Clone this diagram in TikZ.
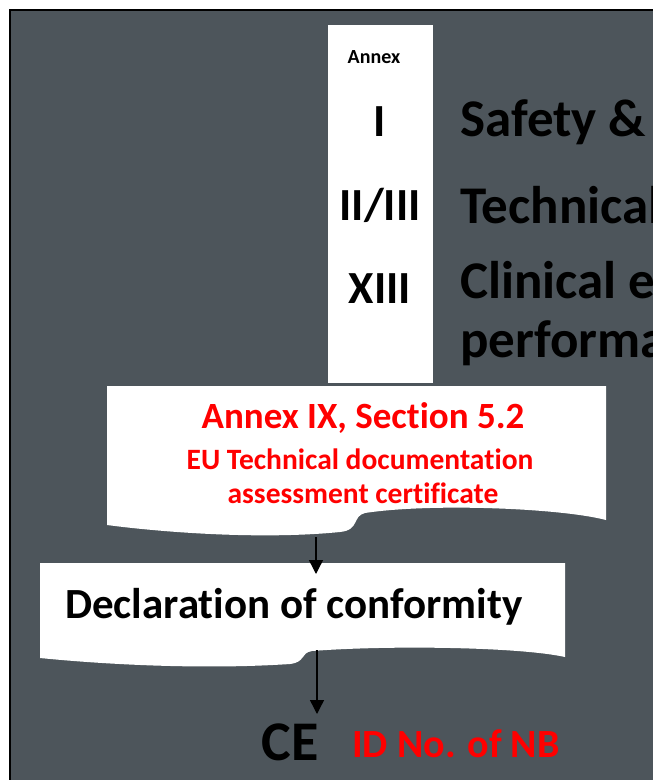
\documentclass[tikz,border=0pt]{standalone}
\usepackage{fontspec}
\setmainfont[Ligatures={NoCommon,NoContextual}]{Carlito}
\usetikzlibrary{arrows.meta}
\definecolor{panel}{HTML}{4D555B}
\definecolor{redtxt}{HTML}{FF0000}
\tikzset{
  sheet/.style={fill=white, draw=none},
  numeral/.style={font=\bfseries\fontsize{46}{50}\selectfont, text=black, inner sep=0pt},
  topic/.style={font=\bfseries\fontsize{53}{58}\selectfont, text=black, anchor=west, inner sep=0pt},
  flow/.style={draw=black, line width=1.4pt, -{Triangle[length=14pt, width=14pt]}},
}
\begin{document}
\begin{tikzpicture}[x=1pt, y=-1pt]
\useasboundingbox (0,0) rectangle (653,780);
\clip (0,0) rectangle (653,780);
% background panel
\fill[white] (0,0) rectangle (653,780);
\draw[fill=panel, draw=black, line width=2pt] (10,10) rectangle (670,800);

% annex column
\fill[white] (328,25) rectangle (433,383);
\node[font=\bfseries\fontsize{20}{22}\selectfont, inner sep=0pt] (annex) at (374,57) {Annex};
\node[numeral] (n1) at (380,122) {I};
\node[numeral] (n2) at (380,205) {II/III};
\node[numeral] (n3) at (380,289) {XIII};

% topics beside the numerals (running past the right edge)
\node[topic] (t1) at (460,122) {Safety \& performance requirements};
\node[topic] (t2) at (460,205) {Technical documentation};
\node[topic] (t3) at (460,280) {Clinical evaluation \&};
\node[topic] (t4) at (460,343) {performance evaluation};

% certificate document shape
\path[sheet] (107,386) -- (606,386) -- (606,520)
  .. controls (560,508) and (430,503) .. (365,513)
  .. controls (352,516) and (360,530) .. (340,532)
  .. controls (260,540) and (160,532) .. (107,525) -- cycle;
\node[font=\bfseries\fontsize{37}{40}\selectfont, text=redtxt, inner sep=0pt] (cert1) at (363,418) {Annex IX, Section 5.2};
\node[font=\bfseries\fontsize{29.5}{32}\selectfont, text=redtxt, inner sep=0pt] (cert2) at (360,459) {EU Technical documentation};
\node[font=\bfseries\fontsize{29.5}{32}\selectfont, text=redtxt, inner sep=0pt] (cert3) at (363,493) {assessment certificate};

% declaration document shape
\path[sheet] (40,563) -- (565,563) -- (565,657)
  .. controls (520,647) and (390,645) .. (312,651)
  .. controls (300,653) and (306,662) .. (290,664)
  .. controls (200,670) and (100,664) .. (40,658) -- cycle;
\node[font=\bfseries\fontsize{43}{46}\selectfont, inner sep=0pt] (doc) at (294,607) {Declaration of conformity};

% CE marking
\node[font=\bfseries\fontsize{56}{60}\selectfont, inner sep=0pt] (ce) at (290,742) {CE};
\node[font=\bfseries\fontsize{40}{44}\selectfont, text=redtxt, inner sep=0pt, anchor=west] (nb) at (352,744) {ID No. of NB};

% connectors
\coordinate (a1s) at (316,537);
\coordinate (a1e) at (316,574);
\coordinate (a2s) at (317,650);
\coordinate (a2e) at (317,714);
\draw[flow] (a1s) -- (a1e);
\draw[flow] (a2s) -- (a2e);
\end{tikzpicture}
\end{document}
